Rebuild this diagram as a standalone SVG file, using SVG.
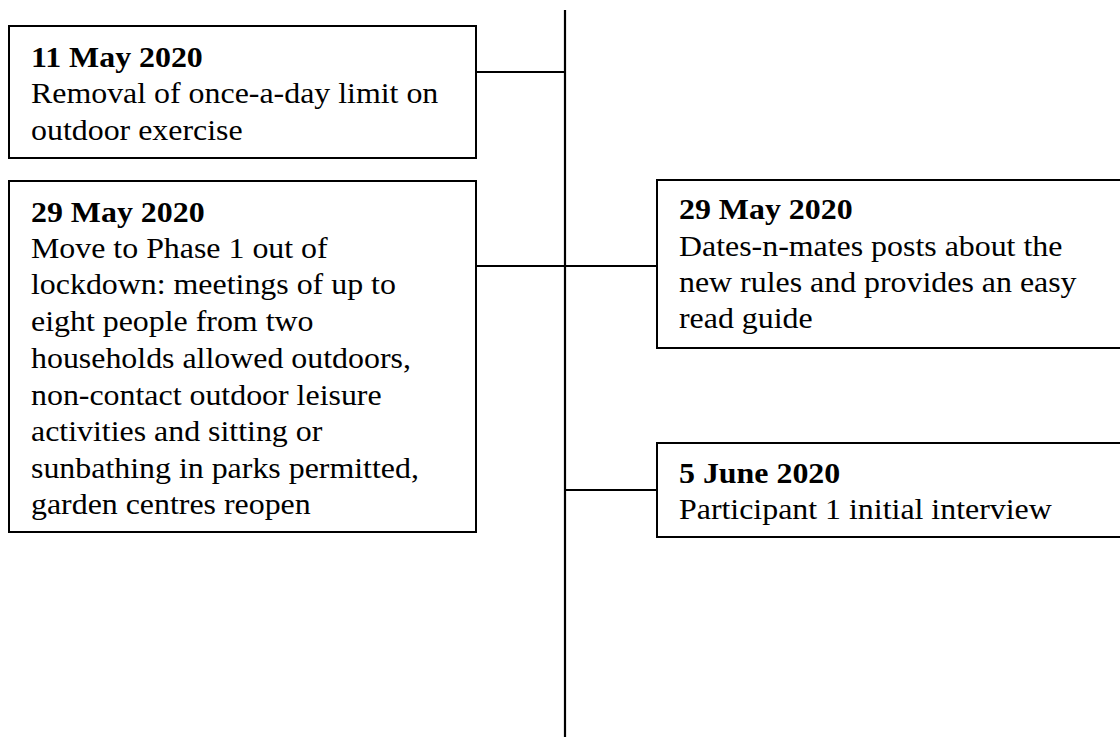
<svg xmlns="http://www.w3.org/2000/svg" width="1120" height="737" viewBox="0 0 1120 737">
<style>
.box{fill:#fff;stroke:#000;stroke-width:2}
.ln{stroke:#000;stroke-width:2.2;fill:none}
text{font-family:"Liberation Serif","Times New Roman",serif;font-size:29px;fill:#000}
.b{font-weight:bold}
</style>
<rect width="1120" height="737" fill="#fff"/>
<g id="connectors">
<line class="ln" x1="565" y1="10" x2="565" y2="737"/>
<line class="ln" x1="476" y1="72" x2="565" y2="72"/>
<line class="ln" x1="476" y1="266" x2="657" y2="266"/>
<line class="ln" x1="565" y1="490" x2="657" y2="490"/>
</g>
<g id="n1">
<rect class="box" x="9" y="26" width="467" height="132"/>
<g transform="translate(31,0) scale(1.1,1)">
<text x="0" y="67" class="b">11 May 2020</text>
<text x="0" y="103">Removal of once-a-day limit on</text>
<text x="0" y="140">outdoor exercise</text>
</g>
</g>
<g id="n2">
<rect class="box" x="9" y="181" width="467" height="351"/>
<g transform="translate(31,0) scale(1.1,1)">
<text x="0" y="222" class="b">29 May 2020</text>
<text x="0" y="258">Move to Phase 1 out of</text>
<text x="0" y="294">lockdown: meetings of up to</text>
<text x="0" y="331">eight people from two</text>
<text x="0" y="368">households allowed outdoors,</text>
<text x="0" y="405">non-contact outdoor leisure</text>
<text x="0" y="441">activities and sitting or</text>
<text x="0" y="478">sunbathing in parks permitted,</text>
<text x="0" y="514">garden centres reopen</text>
</g>
</g>
<g id="n3">
<rect class="box" x="657" y="180" width="470" height="168"/>
<g transform="translate(679,0) scale(1.1,1)">
<text x="0" y="219" class="b">29 May 2020</text>
<text x="0" y="256">Dates-n-mates posts about the</text>
<text x="0" y="292">new rules and provides an easy</text>
<text x="0" y="328">read guide</text>
</g>
</g>
<g id="n4">
<rect class="box" x="657" y="443" width="470" height="94"/>
<g transform="translate(679,0) scale(1.1,1)">
<text x="0" y="483" class="b">5 June 2020</text>
<text x="0" y="519">Participant 1 initial interview</text>
</g>
</g>
</svg>
